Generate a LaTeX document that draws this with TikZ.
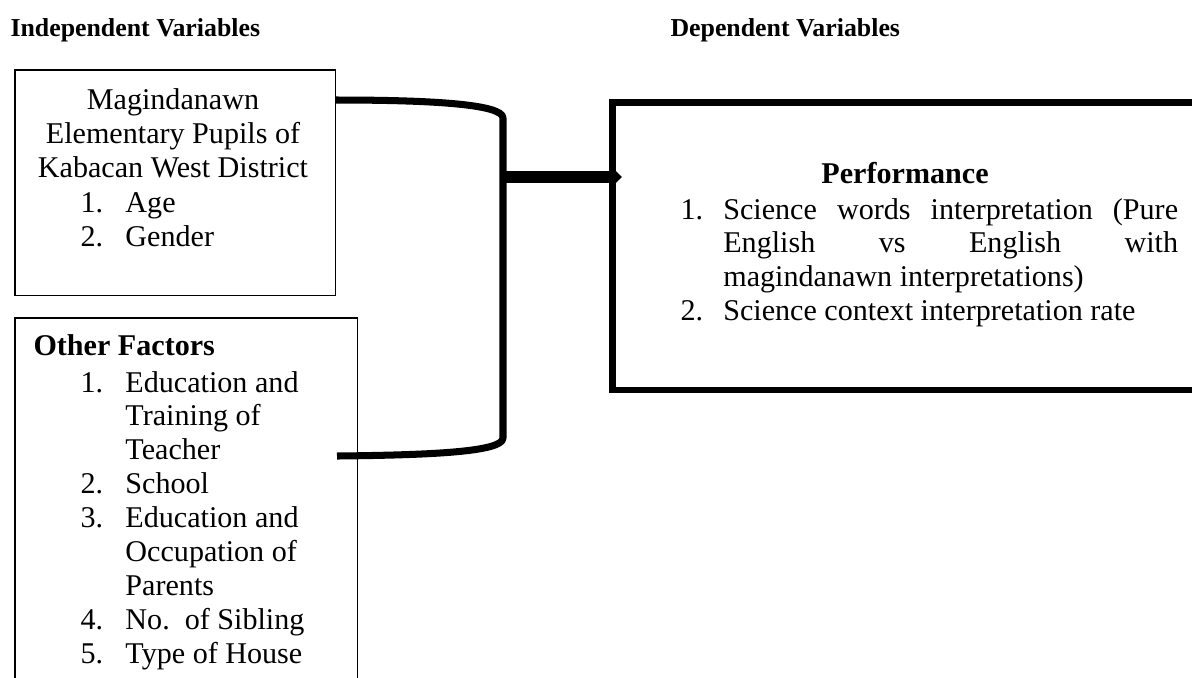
\documentclass[tikz,border=0pt]{standalone}
\usepackage{fontspec}
\setmainfont{Liberation Serif}
\usepackage{xcolor}
\usepackage{tikz}
\usetikzlibrary{shapes,arrows.meta,positioning,fit,calc}

\tikzset{
  thinbox/.style={draw, line width=0.6pt, inner sep=0pt, anchor=north west},
  thickbox/.style={draw, line width=2.6pt, inner sep=0pt, anchor=north west},
  bodytext/.style={inner sep=0pt, font=\fontsize{12}{13.5}\selectfont},
  headtext/.style={inner sep=0pt, font=\fontsize{10.3}{12}\selectfont\bfseries},
  link/.style={line width=2.8pt, line join=round},
}
\newcommand{\itemno}[1]{\makebox[0.63cm][l]{#1}}

\begin{document}
\begin{tikzpicture}[x=0.014cm, y=-0.014cm]
            \useasboundingbox (0,0) rectangle (1192,677);
            \clip (0,0) rectangle (1192,677);

            % Headings
            \node[headtext, anchor=base west] (indep) at (10,36) {Independent Variables};
            \node[headtext, anchor=base west] (dep) at (670,36) {Dependent Variables};

            % Frames (the last two run past the page edge)
            \node[thinbox, minimum width=4.49cm, minimum height=3.16cm] (magbox) at (14,69) {};
            \node[thinbox, minimum width=4.80cm, minimum height=5.70cm] (otherbox) at (14,317) {};
            \node[thickbox, minimum width=8.70cm, minimum height=4.03cm] (perfbox) at (609,99) {};

            % Pupils (base = last line)
            \node[bodytext, anchor=base, align=center] (magtitle) at (173,177)
                {Magindanawn\\Elementary Pupils of\\Kabacan West District};
            \node[bodytext, anchor=base west, align=left] (maglist) at (80,246)
                {\itemno{1.}Age\\\itemno{2.}Gender};

            % Other factors
            \node[bodytext, anchor=base west] (othertitle) at (33,355) {\textbf{Other Factors}};
            \node[bodytext, anchor=base west, align=left] (otherlist) at (80,663)
                {\itemno{1.}Education and\\\itemno{}Training of\\\itemno{}Teacher\\
                 \itemno{2.}School\\
                 \itemno{3.}Education and\\\itemno{}Occupation of\\\itemno{}Parents\\
                 \itemno{4.}No.\ \ of Sibling\\
                 \itemno{5.}Type of House};

            % Performance
            \node[bodytext, anchor=base] (perftitle) at (905,183) {\textbf{Performance}};
            \node[bodytext, anchor=base west, text width=6.97cm, align=justify] (perflist) at (680,219)
                {\hyphenpenalty=10000
                 \noindent\hangindent=0.6cm\makebox[0.6cm][l]{1.}Science words interpretation (Pure\linebreak
                 English vs English with\linebreak magindanawn interpretations)\par
                 \noindent\hangindent=0.6cm\makebox[0.6cm][l]{2.}Science context interpretation rate\par};

            % Bracket joining the two left frames
            \coordinate (topend) at ($(magbox.north east)+(0,31)$);
            \coordinate (botend) at (337,456);
            \coordinate (joint) at (503,177);
            \draw[link] (topend) .. controls (430,100) and (503,104) .. (503,118)
                -- (503,438) .. controls (503,452) and (430,455) .. (botend);

            % Arrow into the performance frame
            \coordinate (tip) at ($(joint -| perfbox.west)+(13,0)$);
            \draw[line width=4.8pt, -{Triangle[length=0.16cm, width=0.30cm]}] (joint) -- (tip);
        \end{tikzpicture}
\end{document}
